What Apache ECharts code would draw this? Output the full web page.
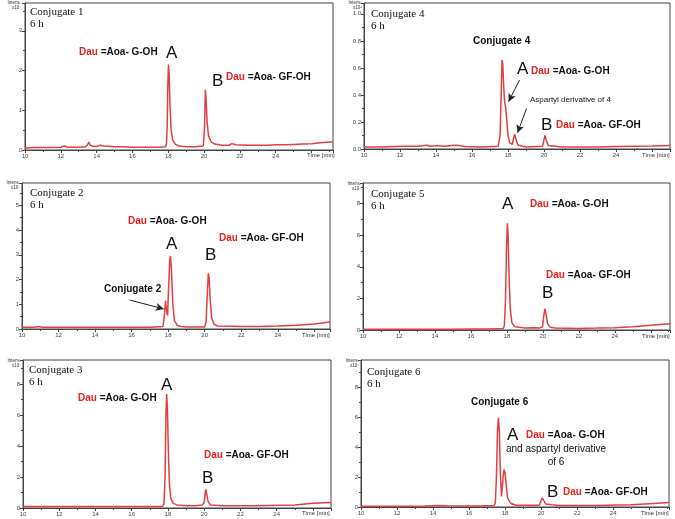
<!DOCTYPE html>
<html><head><meta charset="utf-8">
<script src="https://cdn.jsdelivr.net/npm/echarts@6/dist/echarts.min.js"></script>
<style>html,body{margin:0;padding:0;background:#fff}#c{width:675px;height:519px}</style>
</head><body><div id="c"></div>
<script>
// ---------- data (time [min], intensity) ----------
const xTickLabels = ['10','12','14','16','18','20','22','24'];
const yTicks1 = ['0','1','2','3'];
const yTicks4 = ['0.0','0.2','0.4','0.6','0.8','1.0'];
const yTicks2 = ['0','1','2','3','4','5'];
const yTicks5 = ['0','2','4','6','8'];
const yTicks3 = ['0','2','4','6','8'];
const yTicks6 = ['0','2','4','6','8'];

const conj1 = [[10.0,0.05],[10.5,0.06],[11.0,0.06],[11.5,0.06],[12.0,0.07],[12.2,0.1],[12.4,0.07],[13.0,0.07],[13.4,0.08],[13.5,0.14],[13.57,0.2],[13.65,0.12],[13.8,0.09],[14.0,0.09],[14.2,0.12],[14.4,0.1],[15.0,0.08],[15.5,0.08],[16.0,0.07],[16.5,0.07],[17.0,0.07],[17.5,0.07],[17.85,0.08],[17.9,0.15],[17.94,0.6],[17.97,1.5],[18.01,2.15],[18.05,1.9],[18.1,1.1],[18.16,0.5],[18.25,0.25],[18.4,0.14],[18.6,0.1],[19.0,0.08],[19.5,0.08],[19.96,0.1],[20.03,0.6],[20.07,1.52],[20.11,1.3],[20.17,0.7],[20.25,0.35],[20.4,0.2],[20.6,0.15],[21.0,0.12],[21.4,0.12],[21.55,0.16],[21.65,0.17],[21.8,0.13],[22.5,0.12],[23.0,0.12],[23.5,0.12],[24.0,0.13],[24.5,0.13],[25.0,0.14],[25.5,0.15],[26.0,0.16],[26.5,0.18],[27.0,0.2],[27.2,0.2]];

const conj4 = [[10.0,0.015],[11.0,0.015],[12.0,0.02],[13.0,0.02],[13.5,0.028],[13.7,0.02],[14.0,0.025],[14.5,0.02],[15.0,0.027],[15.3,0.025],[15.6,0.018],[16.5,0.015],[17.45,0.02],[17.56,0.1],[17.62,0.4],[17.67,0.66],[17.71,0.63],[17.76,0.46],[17.82,0.34],[17.87,0.31],[17.93,0.22],[18.0,0.1],[18.1,0.045],[18.24,0.035],[18.31,0.08],[18.37,0.11],[18.43,0.08],[18.55,0.03],[19.0,0.015],[19.92,0.02],[20.0,0.07],[20.06,0.1],[20.12,0.065],[20.25,0.025],[21.0,0.015],[22.0,0.015],[23.0,0.015],[24.0,0.018],[25.0,0.02],[26.0,0.022],[27.0,0.025]];

const conj2 = [[10.0,0.07],[10.7,0.07],[10.9,0.1],[11.1,0.07],[12.0,0.07],[13.0,0.07],[14.0,0.07],[15.0,0.07],[16.0,0.07],[17.0,0.07],[17.72,0.1],[17.8,0.6],[17.86,1.15],[17.92,0.7],[17.97,0.55],[18.03,1.8],[18.09,2.8],[18.13,2.95],[18.18,2.4],[18.25,1.1],[18.34,0.35],[18.5,0.15],[18.7,0.1],[19.0,0.08],[19.1,0.12],[19.2,0.08],[20.0,0.08],[20.08,0.3],[20.14,1.4],[20.2,2.25],[20.24,2.1],[20.3,1.2],[20.38,0.45],[20.5,0.2],[20.7,0.12],[22.0,0.1],[23.0,0.1],[24.0,0.12],[25.0,0.15],[26.0,0.2],[26.86,0.28]];

const conj5 = [[10.0,0.05],[11.0,0.05],[12.0,0.05],[13.0,0.05],[14.0,0.05],[15.0,0.05],[16.0,0.06],[17.0,0.07],[17.8,0.1],[17.86,0.3],[17.92,1.8],[17.98,5.2],[18.03,6.75],[18.07,6.0],[18.12,3.5],[18.19,1.3],[18.28,0.45],[18.45,0.2],[19.0,0.12],[19.5,0.15],[19.8,0.12],[19.98,0.2],[20.05,0.9],[20.12,1.35],[20.18,1.0],[20.26,0.4],[20.4,0.18],[20.7,0.12],[22.0,0.1],[23.0,0.12],[24.0,0.15],[25.0,0.2],[26.0,0.3],[27.07,0.4]];

const conj3 = [[10.0,0.1],[11.0,0.1],[12.0,0.1],[13.0,0.1],[14.0,0.1],[15.0,0.1],[16.0,0.1],[17.0,0.1],[17.7,0.1],[17.78,0.25],[17.84,2.0],[17.89,6.0],[17.93,7.35],[17.97,6.5],[18.02,3.8],[18.08,1.6],[18.16,0.6],[18.3,0.3],[18.5,0.2],[19.0,0.15],[19.5,0.15],[19.9,0.2],[20.0,0.35],[20.05,0.9],[20.09,1.2],[20.14,0.9],[20.22,0.4],[20.35,0.2],[21.0,0.15],[23.0,0.15],[25.0,0.2],[26.0,0.3],[27.0,0.35]];

const conj6 = [[10.0,0.05],[11.0,0.05],[12.0,0.05],[13.0,0.05],[13.5,0.06],[13.6,0.15],[13.7,0.07],[14.3,0.1],[14.7,0.08],[15.5,0.06],[16.5,0.06],[17.4,0.1],[17.46,0.3],[17.52,2.0],[17.58,5.2],[17.63,5.95],[17.68,5.0],[17.74,2.2],[17.8,0.7],[17.84,0.8],[17.89,2.0],[17.94,2.5],[18.0,2.3],[18.06,1.5],[18.14,0.6],[18.3,0.25],[18.6,0.12],[18.9,0.12],[19.0,0.2],[19.1,0.12],[19.9,0.12],[20.0,0.25],[20.05,0.6],[20.09,0.7],[20.14,0.45],[20.25,0.2],[20.6,0.15],[21.0,0.1],[23.0,0.1],[25.0,0.15],[26.0,0.22],[27.1,0.3]];

// ---------- layout ----------
const panels = [
  {data:conj1, yLabels:yTicks1, dec:0, grid:{left:25,top:3,width:308,height:147}, xmax:27.2, ymax:3.7, yint:1},
  {data:conj4, yLabels:yTicks4, dec:1, grid:{left:364,top:3,width:306,height:146}, xmax:27.0, ymax:1.08, yint:0.2,
    arrows:[[[18.64,0.51],[18.03,0.35]],[[19.03,0.30],[18.53,0.12]]]},
  {data:conj2, yLabels:yTicks2, dec:0, grid:{left:22,top:183,width:308,height:146}, xmax:26.86, ymax:5.9, yint:1,
    arrows:[[[15.9,1.17],[17.76,0.81]]]},
  {data:conj5, yLabels:yTicks5, dec:0, grid:{left:363,top:183,width:307,height:147}, xmax:27.07, ymax:9.3, yint:2},
  {data:conj3, yLabels:yTicks3, dec:0, grid:{left:23,top:360,width:308,height:148}, xmax:27.0, ymax:9.55, yint:2},
  {data:conj6, yLabels:yTicks6, dec:0, grid:{left:361,top:360,width:308,height:147}, xmax:27.1, ymax:9.8, yint:2}
];

const AX = '#444';
const grids=[], xAxes=[], yAxes=[], series=[];
panels.forEach((p,i)=>{
  grids.push(Object.assign({show:true, borderColor:AX, borderWidth:1, backgroundColor:'transparent'}, p.grid));
  xAxes.push({type:'value', gridIndex:i, min:10, max:p.xmax, interval:2,
    axisLine:{show:true, onZero:false, lineStyle:{color:AX,width:1}},
    axisTick:{show:true, length:3, lineStyle:{color:AX}},
    minorTick:{show:true, splitNumber:2, length:2, lineStyle:{color:AX}},
    splitLine:{show:false},
    axisLabel:{fontSize:6, color:'#444', margin:3, fontFamily:'Liberation Sans',
      formatter:v=>{const s=String(Math.round(v*100)/100); return xTickLabels.includes(s)?s:'';}}});
  yAxes.push({type:'value', gridIndex:i, min:0, max:p.ymax, interval:p.yint,
    axisLine:{show:true, onZero:false, lineStyle:{color:AX,width:1}},
    axisTick:{show:true, length:3, lineStyle:{color:AX}},
    minorTick:{show:true, splitNumber:2, length:2, lineStyle:{color:AX}},
    splitLine:{show:false},
    axisLabel:{fontSize:6, color:'#444', margin:3, fontFamily:'Liberation Sans',
      formatter:v=>{const s=v.toFixed(p.dec); return p.yLabels.includes(s)?s:'';}}});
  const s = {type:'line', xAxisIndex:i, yAxisIndex:i, data:p.data, showSymbol:false, smooth:false,
    lineStyle:{color:'#e23f42', width:1.5}, itemStyle:{color:'#e23f42'}, animation:false, silent:true};
  if(p.arrows){
    s.markLine = {silent:true, animation:false, symbol:['none','arrow'], symbolSize:[6,8], precision:4,
      lineStyle:{color:'#222', width:1, type:'solid'}, label:{show:false},
      data:p.arrows.map(a=>[{coord:a[0]},{coord:a[1]}])};
  }
  series.push(s);
});

// ---------- annotation texts ----------
const SANS='"Liberation Sans", Arial, sans-serif';
const SERIF='"Liberation Serif", "Times New Roman", serif';
const g=[];
function t(x,y,text,font,extra){
  g.push({type:'text', x:x, y:y, silent:true, style:Object.assign({text:text, font:font, fill:'#111', align:'left', verticalAlign:'middle'}, extra||{})});
}
function dau(x,y,rest){
  t(x,y,'{r|Dau} '+rest,'bold 10px '+SANS,{rich:{r:{fill:'#e8231f', font:'bold 10px '+SANS}}});
}
function title(x,y,n){ t(x,y,'Conjugate '+n,'11px '+SERIF); t(x,y+12,'6 h','11px '+SERIF); }
function big(x,y,l){ t(x,y,l,'17px '+SANS); }
function intens(x,y,e){ t(x,y,'Intens.\nx10'+e,'4.5px '+SANS,{align:'right',verticalAlign:'top',fill:'#333'}); }
function time(x,y){ t(x,y,'Time [min]','6px '+SANS,{fill:'#333'}); }

// panel 1
title(30,12,1); dau(79,52,'=Aoa- G-OH'); big(166,53,'A'); big(212,81,'B'); dau(226,77,'=Aoa- GF-OH');
intens(21,0,'\u2077'); time(307,155);
// panel 2 (conjugate 4)
title(371,14,4); t(473,41,'Conjugate 4','bold 10px '+SANS); big(517,69,'A'); dau(531,71,'=Aoa- G-OH');
t(530,100,'Aspartyl derivative of 4','8px '+SANS); big(541,125,'B'); dau(556,125,'=Aoa- GF-OH');
intens(362,0,'\u2076'); time(642,155);
// panel 3 (conjugate 2)
title(30,193,2); dau(128,221,'=Aoa- G-OH'); dau(219,238,'=Aoa- GF-OH'); big(166,244,'A'); big(205,255,'B');
t(104,289,'Conjugate 2','bold 10px '+SANS);
intens(20,180,'\u2077'); time(302,335);
// panel 4 (conjugate 5)
title(371,194,5); big(502,204,'A'); dau(530,204,'=Aoa- G-OH'); dau(546,275,'=Aoa- GF-OH'); big(542,293,'B');
intens(361,181,'\u2077'); time(642,336);
// panel 5 (conjugate 3)
title(29,370,3); big(161,385,'A'); dau(78,398,'=Aoa- G-OH'); dau(204,455,'=Aoa- GF-OH'); big(202,478,'B');
intens(21,358,'\u2077'); time(302,513);
// panel 6 (conjugate 6)
title(367,372,6); t(471,402,'Conjugate 6','bold 10px '+SANS); big(507,435,'A'); dau(526,435,'=Aoa- G-OH');
t(556,449,'and aspartyl derivative','10px '+SANS,{align:'center'}); t(556,462,'of 6','10px '+SANS,{align:'center'});
big(547,492,'B'); dau(563,492,'=Aoa- GF-OH');
intens(359,358,'\u2077'); time(641,513);

const chart = echarts.init(document.getElementById('c'));
chart.setOption({animation:false, backgroundColor:'#fff', grid:grids, xAxis:xAxes, yAxis:yAxes, series:series, graphic:g});
</script></body></html>
